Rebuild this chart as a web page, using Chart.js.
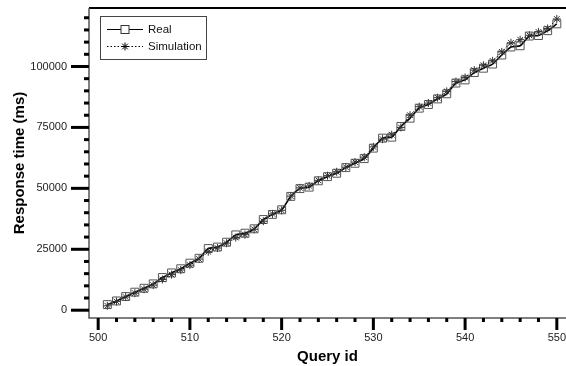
<!DOCTYPE html>
<html>
<head>
<meta charset="utf-8">
<script src="https://cdn.jsdelivr.net/npm/chart.js@4.4.1/dist/chart.umd.min.js"></script>
<style>
  html, body { margin: 0; padding: 0; background: #fff; }
  #wrap { width: 566px; height: 366px; }
</style>
</head>
<body>
<div id="wrap"><canvas id="chart"></canvas></div>
<script>
// data
const queryIds = [501, 502, 503, 504, 505, 506, 507, 508, 509, 510,
  511, 512, 513, 514, 515, 516, 517, 518, 519, 520,
  521, 522, 523, 524, 525, 526, 527, 528, 529, 530,
  531, 532, 533, 534, 535, 536, 537, 538, 539, 540,
  541, 542, 543, 544, 545, 546, 547, 548, 549, 550];
const realTimes = [2300, 3800, 5600, 7400, 9000, 10800, 13400, 15300, 17000, 19300,
  21300, 25300, 25900, 27900, 30900, 31600, 33400, 37200, 39300, 41200,
  46700, 49900, 50500, 53100, 54800, 56200, 58500, 60300, 62200, 66500,
  70600, 71000, 75400, 78800, 82900, 84400, 86700, 88800, 93200, 94500,
  97500, 99300, 101000, 104700, 108000, 108500, 112500, 112700, 114700, 117500];
const simTimes = [1800, 3600, 5400, 7000, 8600, 10300, 12600, 14600, 16500, 18500,
  21000, 24000, 25500, 27500, 29800, 31000, 33200, 36500, 39500, 41000,
  46800, 50200, 51000, 53300, 55200, 56800, 58700, 60800, 62800, 67000,
  70200, 72000, 75000, 80000, 83500, 85000, 87200, 89800, 93800, 95500,
  98500, 100500, 102300, 106000, 109700, 111000, 112800, 114200, 115600, 119500];

const xMajorTicks = [500, 510, 520, 530, 540, 550];
const xMinorTicks = [502, 504, 506, 508, 512, 514, 516, 518, 522, 524, 526, 528,
  532, 534, 536, 538, 542, 544, 546, 548];
const yMajorTicks = [0, 25000, 50000, 75000, 100000];
const yMinorTicks = [5000, 10000, 15000, 20000, 30000, 35000, 40000, 45000,
  55000, 60000, 65000, 70000, 80000, 85000, 90000, 95000,
  105000, 110000, 115000, 120000];

const FONT = "'Liberation Sans', Arial, Helvetica, sans-serif";

function toPoints(values) {
  return queryIds.map((id, i) => ({ x: id, y: values[i] }));
}

function drawStar(ctx, x, y, r) {
  ctx.beginPath();
  ctx.moveTo(x - r, y); ctx.lineTo(x + r, y);
  ctx.moveTo(x, y - r); ctx.lineTo(x, y + r);
  const d = r * Math.SQRT1_2;
  ctx.moveTo(x - d, y - d); ctx.lineTo(x + d, y + d);
  ctx.moveTo(x - d, y + d); ctx.lineTo(x + d, y - d);
  ctx.stroke();
}

// axis lines, tick marks and the boxed legend
const axisFrame = {
  id: "axisFrame",
  afterDraw(chart) {
    const { ctx, chartArea: a, scales: { x, y } } = chart;
    ctx.save();

    ctx.strokeStyle = "#000";
    ctx.lineWidth = 2;
    ctx.beginPath();
    ctx.moveTo(a.left, a.top);
    ctx.lineTo(a.right, a.top);
    ctx.stroke();

    ctx.strokeStyle = "#555";
    ctx.lineWidth = 1.5;
    ctx.beginPath();
    ctx.moveTo(a.left, a.top);
    ctx.lineTo(a.left, a.bottom);
    ctx.lineTo(a.right, a.bottom);
    ctx.stroke();

    ctx.fillStyle = "#000";
    yMajorTicks.forEach(v => {
      const py = y.getPixelForValue(v);
      ctx.fillRect(a.left - 18, py - 1.5, 18, 3);
    });
    yMinorTicks.forEach(v => {
      const py = y.getPixelForValue(v);
      ctx.fillRect(a.left - 5, py - 1.5, 5, 3);
    });
    xMajorTicks.forEach(v => {
      const px = x.getPixelForValue(v);
      ctx.fillRect(px - 1.5, a.bottom, 3, 12);
    });
    xMinorTicks.forEach(v => {
      const px = x.getPixelForValue(v);
      ctx.fillRect(px - 1.5, a.bottom, 3, 4);
    });

    // legend
    const lx = 100, ly = 16, lw = 106, lh = 43;
    ctx.fillStyle = "#fff";
    ctx.fillRect(lx, ly, lw, lh);
    ctx.strokeStyle = "#444";
    ctx.lineWidth = 1;
    ctx.strokeRect(lx + 0.5, ly + 0.5, lw, lh);

    ctx.strokeStyle = "#000";
    ctx.lineWidth = 1.2;
    ctx.beginPath();
    ctx.moveTo(107, 29.5);
    ctx.lineTo(143, 29.5);
    ctx.stroke();
    ctx.strokeStyle = "#333";
    ctx.lineWidth = 1;
    ctx.fillStyle = "#fff";
    ctx.fillRect(121, 25.5, 8, 8);
    ctx.strokeRect(121, 25.5, 8, 8);

    ctx.setLineDash([1.5, 2]);
    ctx.strokeStyle = "#000";
    ctx.beginPath();
    ctx.moveTo(107, 46.5);
    ctx.lineTo(143, 46.5);
    ctx.stroke();
    ctx.setLineDash([]);
    drawStar(ctx, 125, 46.5, 4);

    ctx.fillStyle = "#111";
    ctx.font = "11.5px " + FONT;
    ctx.textBaseline = "middle";
    ctx.textAlign = "left";
    ctx.fillText("Real", 148, 29.5);
    ctx.fillText("Simulation", 148, 46.5);

    ctx.restore();
  }
};

new Chart(document.getElementById("chart"), {
  type: "line",
  data: {
    datasets: [
      {
        label: "Simulation",
        data: toPoints(simTimes),
        borderColor: "#000",
        borderWidth: 1,
        borderDash: [1.5, 2],
        pointStyle: "star",
        pointRadius: 4,
        pointBorderColor: "#333",
        pointBorderWidth: 1,
        pointBackgroundColor: "transparent",
        tension: 0.2,
        fill: false,
      },
      {
        label: "Real",
        data: toPoints(realTimes),
        borderColor: "#000",
        borderWidth: 1.6,
        pointStyle: "rect",
        pointRadius: 5.6,
        pointBorderColor: "#555",
        pointBorderWidth: 1,
        pointBackgroundColor: "transparent",
        tension: 0.2,
        fill: false,
      },
    ],
  },
  options: {
    responsive: true,
    maintainAspectRatio: false,
    animation: false,
    layout: { autoPadding: false, padding: { top: 8, left: 0, right: 0, bottom: 0 } },
    plugins: {
      legend: { display: false },
      tooltip: { enabled: false },
    },
    scales: {
      x: {
        type: "linear",
        min: 499,
        max: 551,
        afterBuildTicks: s => { s.ticks = xMajorTicks.map(v => ({ value: v })); },
        afterFit: s => {
          s.height = 48;
          s.paddingLeft = 0;
          s.paddingRight = 0;
        },
        grid: { display: false, drawTicks: false },
        border: { display: false },
        ticks: {
          padding: 13,
          maxRotation: 0,
          autoSkip: false,
          color: "#222",
          font: { family: FONT, size: 11 },
          callback: v => String(v),
        },
        title: {
          display: true,
          text: "Query id",
          color: "#000",
          padding: 0,
          font: { family: FONT, size: 15, weight: "bold" },
        },
      },
      y: {
        min: -3200,
        max: 124000,
        afterBuildTicks: s => { s.ticks = yMajorTicks.map(v => ({ value: v })); },
        afterFit: s => {
          s.width = 89;
          s.paddingTop = 0;
          s.paddingBottom = 0;
        },
        grid: { display: false, drawTicks: false },
        border: { display: false },
        ticks: {
          padding: 22,
          autoSkip: false,
          color: "#222",
          font: { family: FONT, size: 11 },
          callback: v => String(v),
        },
        title: {
          display: true,
          text: "Response time (ms)",
          color: "#000",
          padding: { top: 11, bottom: 0 },
          font: { family: FONT, size: 15, weight: "bold" },
        },
      },
    },
  },
  plugins: [axisFrame],
});
</script>
</body>
</html>
